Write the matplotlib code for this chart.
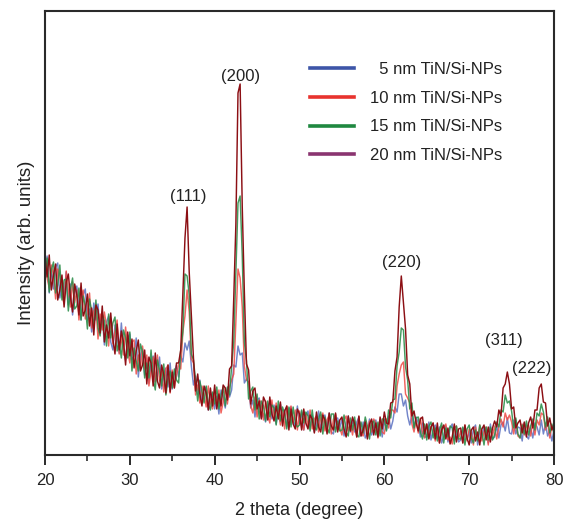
import numpy as np
import matplotlib
matplotlib.use("Agg")
import matplotlib.pyplot as plt
from matplotlib.lines import Line2D

plt.rcParams['font.family'] = ['Liberation Sans', 'DejaVu Sans']

# 2-theta sampling grid (degrees), 0.25 deg step from 20 to 80
two_theta = np.arange(20.0, 80.001, 0.25)

# Intensities (arb. units), 4 samples per degree
tin_5nm = [
180,199,162,187, 166,188,192,157, 171,159,183,150, 171,140,162,169, 147,135,160,166,
135,146,123,152, 135,151,122,139, 110,133,139,113, 105,130,120,102, 132,106,95,117,
121,95,99,117, 78,100,106,80, 97,72,92,99, 73,79,98,66, 79,87,68,92,
66,83,90,78, 99,93,112,105, 114,89,70,79, 61,75,53,65, 68,45,58,62,
46,59,41,65, 58,47,67,58, 65,90,88,109, 100,102,72,76, 72,47,55,38,
55,57,37,41, 33,48,53,36, 50,31,44,51, 35,45,28,46, 48,34,29,49,
31,43,25,38, 44,28,39,23, 30,44,25,38, 40,27,42,23, 21,36,37,27,
36,19,32,39, 23,36,23,33, 38,19,33,17, 21,36,20,29, 35,21,33,18,
35,25,39,26, 34,48,43,61, 61,49,55,39, 30,40,27,38, 32,18,32,18,
18,33,15,25, 30,17,28,12, 19,29,13,27, 31,15,24,13, 15,25,28,15,
23,12,26,30, 10,25,17,28, 26,12,31,16, 18,29,17,30, 33,24,37,22,
21,35,21,28, 27,14,32,19, 16,27,17,32, 28,20,35,21, 31,19,25,14,
25]

tin_10nm = [
203,177,167,190, 180,156,186,179, 159,151,184,165, 148,173,152,165, 135,157,165,136,
142,162,127,144, 148,116,141,125, 143,129,109,136, 111,124,135,101, 119,100,128,104,
92,113,115,81, 100,87,109,86, 100,69,84,98, 73,100,74,84, 63,86,90,62,
85,67,79,91, 86,123,139,165, 143,96,92,60, 70,52,69,61, 48,69,52,46,
62,49,65,42, 53,67,51,68, 75,81,134,186, 177,148,89,75, 73,49,42,58,
38,55,52,35, 54,40,32,55, 36,52,43,30, 45,26,49,41, 49,32,45,25,
44,32,25,41, 29,45,26,36, 39,23,38,42, 24,35,40,21, 36,41,25,27,
20,35,39,24, 32,20,34,18, 38,22,19,35, 20,34,23,36, 32,17,34,23,
21,36,27,45, 45,42,69,81, 90,93,61,57, 52,31,23,35, 22,37,22,17,
31,17,28,32, 14,25,12,28, 27,31,15,18, 11,27,29,16, 24,12,30,14,
26,22,10,28, 15,30,14,23, 28,10,27,19, 29,16,28,36, 28,42,35,40,
33,21,35,19, 17,31,20,28, 30,19,34,20, 35,30,42,40, 25,33,17,29,
28]

tin_15nm = [
175,197,163,185, 193,162,170,190, 155,175,176,144, 166,177,146,149, 167,135,159,149,
126,156,144,128, 155,127,119,141, 134,109,141,117, 132,138,104,113, 97,125,117,97,
123,84,107,94, 84,111,103,77, 92,77,105,77, 65,95,85,69, 91,60,76,84,
67,86,75,72, 105,123,181,179, 160,101,95,74, 54,74,64,52, 69,51,45,63,
51,68,46,60, 68,49,68,60, 89,113,184,252, 259,200,113,94, 56,64,68,45,
61,36,54,49, 34,54,38,50, 47,30,54,34, 48,41,26,48, 28,48,32,28,
30,45,32,43, 39,24,45,28, 25,36,43,21, 38,27,22,41, 41,23,34,24,
25,40,23,19, 37,25,38,20, 18,33,22,38, 29,16,32,34, 20,33,19,36,
36,24,45,37, 55,56,89,103, 127,125,88,75, 46,52,27,37, 38,23,16,31,
15,29,33,17, 27,14,25,32, 12,27,18,29, 27,11,29,16, 16,28,10,26,
30,17,12,25, 14,30,23,10, 28,15,28,15, 20,33,28,45, 43,60,52,54,
44,27,37,21, 17,30,21,34, 20,29,36,25, 42,39,51,43, 28,38,22,31,
21]

tin_20nm = [
198,178,200,165, 180,191,155,165, 180,148,173,181, 158,143,171,160, 140,172,139,145,
161,129,147,120, 150,145,122,149, 113,130,117,142, 116,101,131,105, 124,113,90,123,
99,116,87,104, 115,84,90,105, 71,98,92,69, 102,74,67,90, 80,62,90,63,
83,67,92,92, 105,162,217,248, 183,141,97,64, 81,61,49,69, 62,45,67,49,
70,46,61,49, 70,67,55,86, 89,157,231,362, 371,249,163,91, 85,51,64,67,
46,54,36,58, 53,35,58,41, 34,49,36,53, 29,44,49,25, 46,31,26,46,
41,25,46,32, 26,40,36,22, 43,28,23,40, 35,21,42,29, 25,42,23,35,
38,26,18,39, 24,38,31,18, 39,19,25,33, 16,31,36,20, 32,18,38,26,
43,32,31,52, 53,84,98,148, 179,152,126,80, 71,39,44,32, 24,36,38,21,
31,16,28,32, 16,32,12,25, 30,16,27,11, 18,31,13,26, 27,12,30,17,
10,25,28,14, 23,10,26,30, 15,28,13,27, 34,28,45,39, 67,71,83,71,
46,48,27,32, 35,22,33,18, 32,38,27,45, 45,67,71,53, 52,29,37,25,
31]

series_labels = ["  5 nm TiN/Si-NPs", "10 nm TiN/Si-NPs", "15 nm TiN/Si-NPs", "20 nm TiN/Si-NPs"]
series_data = [tin_5nm, tin_10nm, tin_15nm, tin_20nm]
line_colors = ["#5a70c0", "#ee4a44", "#2e8f4c", "#8c0f14"]
legend_colors = ["#3d55a8", "#e8332e", "#1f8840", "#8a3470"]

peak_labels = ["(111)", "(200)", "(220)", "(311)", "(222)"]
peak_label_x = [36.86, 43.1, 62.08, 74.11, 77.41]
peak_label_y = [259, 379, 192, 114, 87]

x_ticks = [20, 30, 40, 50, 60, 70, 80]

fig = plt.figure(figsize=(5.63, 5.19), dpi=100)
ax = fig.add_axes([45/563, 64/519, 509/563, 444/519])

alphas = [0.85, 0.85, 0.9, 1.0]
for vals, col, a in zip(series_data, line_colors, alphas):
    ax.plot(two_theta, vals, color=col, lw=1.05, alpha=a)

ax.set_xlim(20, 80)
ax.set_ylim(0, 444)
ax.set_xticks(x_ticks)
ax.set_xticks(np.arange(25, 80, 10), minor=True)
ax.set_yticks([])
for s in ax.spines.values():
    s.set_linewidth(1.5)
    s.set_color("#2a2a2a")
ax.tick_params(axis='x', which='major', direction='out', length=7, width=1.4,
               color="#2a2a2a", labelsize=12, pad=6, labelcolor="#222222")
ax.tick_params(axis='x', which='minor', direction='out', length=4.5, width=1.2,
               color="#2a2a2a")

ax.set_xlabel("2 theta (degree)", fontsize=13, color="#222222")
ax.xaxis.set_label_coords(0.5, -0.106)
ax.set_ylabel("Intensity (arb. units)", fontsize=13.5, color="#222222")
ax.yaxis.set_label_coords(-0.020, 0.5 + (455 - 243 - 222) / 444)

for t, px, py in zip(peak_labels, peak_label_x, peak_label_y):
    ax.text(px, py, t, ha='center', va='center', fontsize=12, color="#222222")

handles = [Line2D([0], [0], color=c, lw=2.6) for c in legend_colors]
ax.legend(handles, series_labels, loc='upper left', bbox_to_anchor=(0.521, 0.885),
          frameon=False, fontsize=12, handlelength=2.6, handletextpad=1.0,
          labelspacing=0.82, borderpad=0, borderaxespad=0, labelcolor="#222222")

fig.savefig("out.png", dpi=100)
